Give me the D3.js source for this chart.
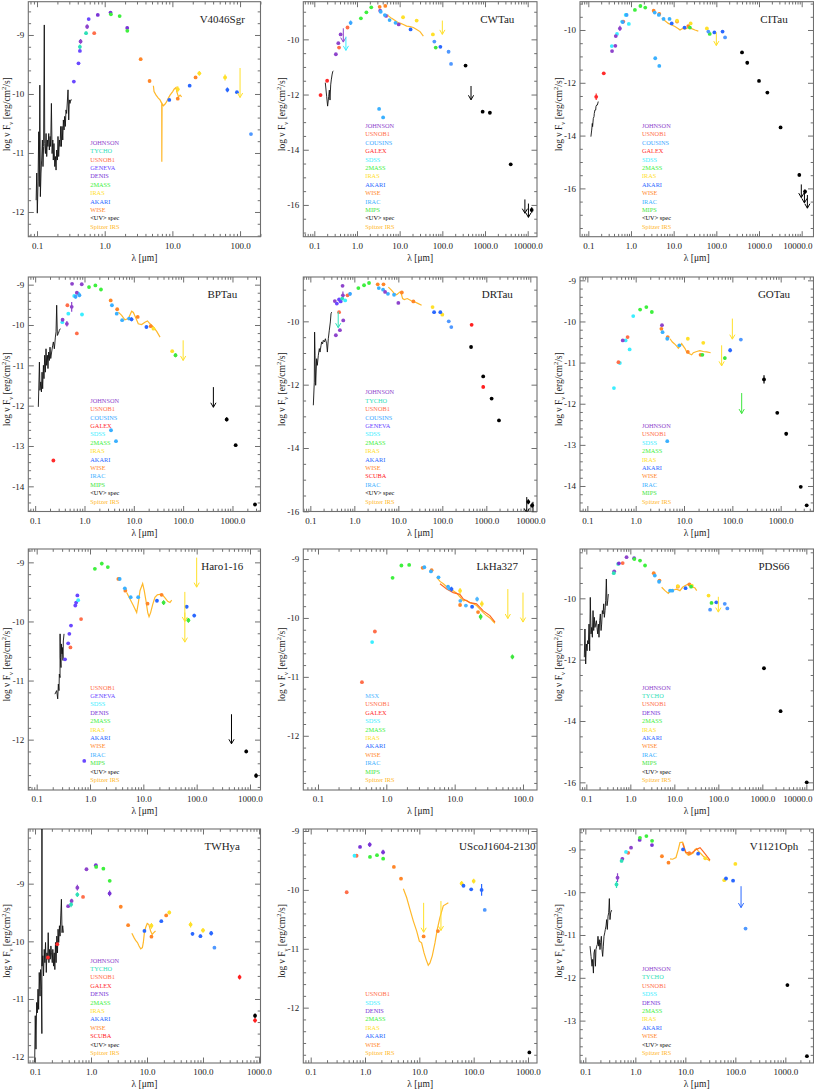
<!DOCTYPE html>
<html>
<head>
<meta charset="utf-8">
<script src="https://cdn.jsdelivr.net/npm/d3@7"></script>
<style>
body { margin: 0; background: #fff; }
svg { display: block; }
</style>
</head>
<body>
<svg id="chart" width="814" height="1089"></svg>
<script>
// catalogue colours and legend labels
const catColors = {
    JOHNSON: '#8e44cc', TYCHO: '#2fe0b8', USNOB1: '#ff6e4a', COUSINS: '#3aa6ff',
    GALEX: '#ff2b2b', GENEVA: '#6a48ff', DENIS: '#7a34d6', SDSS: '#3aeeff',
    '2MASS': '#3ef03e', IRAS: '#ffe02a', AKARI: '#2a68ff', WISE: '#ff8628',
    IRAC: '#3ab0ff', MIPS: '#3ee63e', SCUBA: '#ff2020', MSX: '#4cb6ff',
    UV: '#000000', IRS: '#ffb82a', AKARI_FIS: '#4f98ff', MM: '#000000'
}
const catLabels = { UV: '<UV> spec', IRS: 'Spitzer IRS' }

// ---- V4046Sgr ----
const v4046Phot = [
    ['GENEVA', 0.35, -9.79, 0], ['GENEVA', 0.41, -9.48, 0], ['GENEVA', 0.43, -9.27, 0],
    ['TYCHO', 0.43, -9.20, 0.04], ['JOHNSON', 0.44, -9.11, 0.04], ['TYCHO', 0.53, -8.97, 0.03],
    ['JOHNSON', 0.55, -8.86, 0.04], ['GENEVA', 0.58, -8.73, 0], ['USNOB1', 0.70, -8.97, 0],
    ['DENIS', 0.79, -8.66, 0], ['DENIS', 1.22, -8.62, 0], ['2MASS', 1.235, -8.65, 0.02],
    ['2MASS', 1.662, -8.68, 0.02], ['DENIS', 2.15, -8.88, 0.02], ['2MASS', 2.159, -8.93, 0.02],
    ['WISE', 3.4, -9.41, 0], ['WISE', 4.6, -9.78, 0], ['AKARI', 9, -10.10, 0],
    ['IRAS', 12, -9.92, 0.05], ['WISE', 12, -10.08, 0], ['AKARI', 18, -9.86, 0],
    ['WISE', 22, -9.72, 0], ['IRAS', 25, -9.65, 0.04], ['IRAS', 60, -9.72, 0.05],
    ['AKARI', 65, -9.93, 0.04], ['AKARI', 90, -9.97, 0], ['AKARI_FIS', 145, -10.68, 0]
]
const v4046Lim = [['IRAS', 100, -9.56]]
const v4046Uv = [[0.097,-11.80],[0.099,-11.34],[0.101,-12.02],[0.1035,-11.49],[0.106,-10.64],[0.108,-11.57],[0.110,-9.85],[0.112,-11.74],[0.1145,-11.34],[0.117,-11.12],[0.120,-10.78],[0.1225,-11.23],[0.125,-10.89],[0.128,-8.83],[0.130,-10.84],[0.133,-11.01],[0.136,-10.67],[0.139,-11.06],[0.142,-10.78],[0.145,-10.89],[0.149,-10.67],[0.152,-10.95],[0.156,-10.72],[0.159,-10.89],[0.163,-10.16],[0.167,-11.01],[0.171,-10.78],[0.174,-11.12],[0.178,-10.84],[0.183,-11.23],[0.187,-11.06],[0.191,-11.29],[0.195,-10.95],[0.200,-11.12],[0.204,-10.72],[0.209,-11.06],[0.214,-10.78],[0.219,-10.89],[0.224,-10.55],[0.229,-10.89],[0.234,-10.55],[0.240,-10.78],[0.245,-10.44],[0.251,-10.61],[0.256,-10.38],[0.262,-10.55],[0.268,-10.27],[0.274,-10.33],[0.287,-9.93],[0.294,-10.44],[0.300,-10.10],[0.307,-10.16],[0.315,-10.10],[0.326,-10.10]]
const v4046Irs = [[5.24,-9.86],[5.36,-9.96],[5.74,-10.02],[6.2,-10.07],[6.57,-10.10],[6.96,-10.16],[6.98,-11.15],[7.04,-10.16],[7.37,-10.20],[7.8,-10.17],[8.23,-10.13],[8.73,-10.07],[9.23,-10.02],[10.1,-9.96],[10.6,-9.92],[11.1,-9.90],[11.35,-9.89],[11.6,-9.96],[12.3,-10.05],[13.0,-10.02],[13.7,-10.05]]
const v4046Legend = ['JOHNSON','TYCHO','USNOB1','GENEVA','DENIS','2MASS','IRAS','AKARI','WISE','UV','IRS']

// ---- CWTau ----
const cwPhot = [
    ['GALEX', 0.14, -12.02, 0.05], ['GALEX', 0.20, -11.50, 0],
    ['JOHNSON', 0.32, -10.54, 0], ['JOHNSON', 0.365, -10.14, 0], ['JOHNSON', 0.414, -9.82, 0],
    ['USNOB1', 0.38, -10.30, 0], ['USNOB1', 0.60, -9.57, 0], ['COUSINS', 0.71, -9.40, 0.08],
    ['2MASS', 1.235, -9.24, 0.02], ['2MASS', 1.662, -9.02, 0.02], ['2MASS', 2.159, -8.84, 0.02],
    ['WISE', 3.4, -8.82, 0], ['WISE', 4.6, -8.79, 0], ['JOHNSON', 3.5, -8.96, 0], ['JOHNSON', 4.8, -9.15, 0],
    ['IRAC', 3.6, -9.0, 0], ['IRAC', 4.5, -9.12, 0], ['IRAC', 5.8, -9.30, 0], ['IRAC', 8.0, -9.40, 0],
    ['JOHNSON', 9.5, -9.46, 0], ['IRAS', 12, -9.20, 0], ['IRAS', 25, -9.32, 0], ['IRAS', 60, -9.82, 0],
    ['AKARI', 18, -9.64, 0], ['AKARI', 90, -10.27, 0.04], ['MIPS', 70, -10.30, 0.05],
    ['AKARI_FIS', 65, -10.08, 0], ['AKARI_FIS', 140, -10.45, 0], ['AKARI_FIS', 160, -10.89, 0],
    ['IRAC', 3.3, -12.52, 0], ['IRAC', 4.1, -12.83, 0],
    ['MM', 350, -10.95, 0], ['MM', 880, -12.62, 0], ['MM', 1300, -12.66, 0],
    ['MM', 4000, -14.53, 0], ['MM', 12400, -16.18, 0.1]
]
const cwLim = [['JOHNSON', 0.478, -9.60], ['SDSS', 0.55, -9.90], ['IRAS', 100, -9.32], ['MM', 470, -11.69], ['MM', 8600, -15.80], ['MM', 10400, -15.95]]
const cwUv = [[0.181,-11.57],[0.195,-12.08],[0.205,-12.42],[0.217,-12.08],[0.225,-11.84],[0.233,-12.20],[0.242,-11.65],[0.25,-11.47],[0.26,-11.29],[0.27,-11.17],[0.28,-11.14]]
const cwIrs = [[5.2,-9.10],[5.42,-9.15],[6.5,-9.24],[7.8,-9.32],[9.3,-9.40],[10.6,-9.42],[12.2,-9.46],[14.6,-9.52],[17.5,-9.54],[20.9,-9.57],[25,-9.64],[30,-9.72],[35.9,-9.88]]
const cwLegend = ['JOHNSON','USNOB1','COUSINS','GALEX','SDSS','2MASS','IRAS','AKARI','WISE','IRAC','MIPS','UV','IRS']

// ---- CITau ----
const ciPhot = [
    ['GALEX', 0.153, -12.53, 0.12], ['GALEX', 0.23, -11.64, 0],
    ['SDSS', 0.355, -10.61, 0], ['SDSS', 0.47, -10.15, 0], ['SDSS', 0.62, -9.68, 0], ['SDSS', 0.75, -9.43, 0.05], ['SDSS', 0.89, -9.77, 0],
    ['JOHNSON', 0.36, -10.80, 0], ['JOHNSON', 0.44, -10.23, 0], ['JOHNSON', 0.43, -10.60, 0], ['JOHNSON', 0.55, -9.94, 0.1],
    ['USNOB1', 0.66, -9.68, 0], ['COUSINS', 0.79, -9.43, 0.06], ['COUSINS', 0.64, -9.70, 0.04],
    ['2MASS', 1.235, -9.24, 0.02], ['2MASS', 1.662, -9.09, 0.02], ['2MASS', 2.159, -9.15, 0.02],
    ['WISE', 3.4, -9.27, 0], ['WISE', 4.6, -9.39, 0], ['WISE', 12, -9.68, 0], ['WISE', 22, -9.85, 0],
    ['IRAC', 3.6, -9.34, 0], ['IRAC', 4.5, -9.43, 0], ['IRAC', 5.8, -9.58, 0], ['IRAC', 8.0, -9.58, 0],
    ['AKARI', 9, -9.75, 0], ['AKARI', 18, -9.91, 0], ['AKARI', 90, -10.09, 0.04], ['AKARI', 140, -10.06, 0],
    ['IRAS', 12, -9.65, 0.05], ['IRAS', 25, -9.75, 0.05], ['IRAS', 60, -9.94, 0],
    ['MIPS', 24, -9.91, 0], ['MIPS', 70, -10.15, 0],
    ['AKARI_FIS', 65, -10.06, 0], ['AKARI_FIS', 160, -10.28, 0],
    ['IRAC', 3.7, -11.07, 0], ['IRAC', 4.6, -11.36, 0],
    ['MM', 400, -10.85, 0], ['MM', 530, -11.24, 0.06], ['MM', 1000, -11.93, 0], ['MM', 1570, -12.37, 0],
    ['MM', 3200, -13.69, 0], ['MM', 8800, -15.49, 0.06], ['MM', 12000, -16.12, 0.08]
]
const ciLim = [['IRAS', 100, -10.09], ['MM', 9800, -15.85], ['MM', 11600, -16.05], ['MM', 13600, -16.25]]
const ciUv = [[0.115,-14.04],[0.12,-13.79],[0.124,-13.54],[0.126,-13.66],[0.131,-13.35],[0.136,-13.28],[0.138,-13.16],[0.143,-13.03],[0.149,-13.03],[0.151,-12.90],[0.157,-12.84],[0.163,-12.84],[0.171,-12.71]]
const ciIrs = [[5.23,-9.56],[6.26,-9.65],[7.5,-9.75],[8.97,-9.81],[10.7,-9.87],[12.9,-9.95],[14.1,-10.0],[16.2,-9.94],[18.4,-9.97],[22.1,-9.91],[26.4,-9.95],[31.6,-10.0],[37.8,-10.04]]
const ciLegend = ['JOHNSON','USNOB1','COUSINS','GALEX','SDSS','2MASS','IRAS','AKARI','WISE','IRAC','MIPS','UV','IRS']

// ---- BPTau ----
const bpPhot = [
    ['GALEX', 0.234, -13.36, 0],
    ['SDSS', 0.355, -9.93, 0], ['SDSS', 0.47, -9.72, 0], ['SDSS', 0.62, -9.28, 0], ['SDSS', 0.75, -9.22, 0], ['SDSS', 0.89, -9.74, 0],
    ['JOHNSON', 0.36, -9.87, 0], ['JOHNSON', 0.44, -9.97, 0.07], ['JOHNSON', 0.55, -9.55, 0.12], ['JOHNSON', 0.56, -8.98, 0],
    ['JOHNSON', 0.70, -9.20, 0], ['JOHNSON', 0.88, -8.99, 0],
    ['USNOB1', 0.45, -9.51, 0], ['USNOB1', 0.70, -10.21, 0],
    ['COUSINS', 0.79, -9.26, 0.05], ['COUSINS', 0.66, -9.30, 0.04],
    ['2MASS', 1.235, -9.06, 0.03], ['2MASS', 1.662, -9.02, 0.02], ['2MASS', 2.159, -9.12, 0.03],
    ['WISE', 3.4, -9.39, 0], ['WISE', 4.6, -9.61, 0], ['WISE', 12, -9.80, 0], ['WISE', 22, -10.03, 0],
    ['IRAC', 3.6, -9.51, 0], ['IRAC', 4.5, -9.72, 0], ['IRAC', 5.8, -9.88, 0], ['IRAC', 8.0, -9.84, 0],
    ['AKARI', 9, -9.86, 0.05], ['AKARI', 18, -10.05, 0],
    ['IRAS', 25, -10.09, 0], ['IRAS', 60, -10.65, 0], ['MIPS', 70, -10.75, 0.05],
    ['IRAC', 3.45, -12.61, 0], ['IRAC', 4.35, -12.88, 0],
    ['MM', 763, -12.34, 0.05], ['MM', 1160, -12.98, 0], ['MM', 2860, -14.45, 0]
]
const bpLim = [['IRAS', 100, -10.38], ['MM', 410, -11.54]]
const bpUv = [[0.116,-12.03],[0.122,-10.92],[0.125,-11.62],[0.130,-11.41],[0.134,-11.66],[0.138,-11.17],[0.142,-11.58],[0.147,-11.0],[0.151,-11.33],[0.156,-10.75],[0.161,-11.17],[0.166,-10.59],[0.171,-11.0],[0.177,-10.75],[0.182,-11.08],[0.188,-10.67],[0.194,-10.88],[0.2,-10.55],[0.207,-10.83],[0.216,-10.67],[0.227,-10.50],[0.234,-10.42],[0.245,-10.59],[0.257,-10.30],[0.265,-10.17],[0.273,-9.51],[0.282,-10.26],[0.295,-10.21],[0.31,-10.13],[0.324,-10.09]]
const bpIrs = [[4.86,-9.68],[5.67,-9.76],[6.6,-9.87],[7.75,-9.84],[9.05,-9.66],[9.79,-9.69],[11.1,-9.84],[12.3,-9.97],[14.4,-9.99],[16.8,-9.93],[18.9,-9.90],[21.3,-9.97],[24.9,-10.05],[29.1,-10.16],[34.0,-10.30]]
const bpLegend = ['JOHNSON','USNOB1','COUSINS','GALEX','SDSS','2MASS','IRAS','AKARI','WISE','IRAC','MIPS','UV','IRS']

// ---- DRTau ----
const drPhot = [
    ['JOHNSON', 0.36, -9.36, 0], ['JOHNSON', 0.38, -10.44, 0], ['JOHNSON', 0.47, -10.28, 0], ['JOHNSON', 0.54, -8.88, 0],
    ['JOHNSON', 0.56, -9.97, 0], ['JOHNSON', 0.55, -9.18, 0.12],
    ['GENEVA', 0.40, -9.44, 0], ['GENEVA', 0.45, -9.31, 0], ['GENEVA', 0.49, -9.37, 0],
    ['TYCHO', 0.53, -9.28, 0], ['USNOB1', 0.45, -9.71, 0], ['USNOB1', 0.70, -9.18, 0],
    ['COUSINS', 0.80, -9.13, 0.06], ['SDSS', 0.62, -9.34, 0],
    ['2MASS', 1.235, -8.95, 0.02], ['2MASS', 1.662, -8.86, 0.02], ['2MASS', 2.159, -8.79, 0.02],
    ['WISE', 3.4, -8.83, 0], ['WISE', 4.6, -8.83, 0], ['WISE', 12, -9.09, 0], ['WISE', 22, -9.37, 0],
    ['IRAC', 3.6, -8.95, 0], ['IRAC', 4.5, -9.0, 0], ['IRAC', 5.8, -9.13, 0], ['IRAC', 8.0, -9.16, 0],
    ['JOHNSON', 5.0, -9.07, 0], ['JOHNSON', 10, -9.42, 0],
    ['IRAS', 60, -9.55, 0], ['IRAS', 100, -9.79, 0.04],
    ['AKARI', 65, -9.71, 0.04], ['AKARI', 90, -9.71, 0.04], ['AKARI_FIS', 140, -10.0, 0], ['AKARI_FIS', 160, -10.18, 0],
    ['SCUBA', 464, -10.11, 0.04], ['SCUBA', 850, -12.07, 0.05],
    ['MM', 450, -10.81, 0], ['MM', 850, -11.74, 0.04], ['MM', 1320, -12.44, 0], ['MM', 1940, -13.13, 0],
    ['MM', 9000, -15.70, 0.08], ['MM', 11000, -15.81, 0.08]
]
const drLim = [['TYCHO', 0.43, -9.70], ['MM', 8300, -15.55], ['MM', 11500, -15.70]]
const drUv = [[0.117,-12.65],[0.123,-11.92],[0.125,-10.34],[0.128,-11.07],[0.132,-12.02],[0.139,-11.18],[0.144,-11.39],[0.152,-11.07],[0.16,-10.86],[0.166,-10.97],[0.175,-10.76],[0.181,-10.65],[0.19,-10.71],[0.197,-10.6],[0.208,-10.65],[0.22,-10.55],[0.235,-10.71],[0.244,-10.97],[0.256,-10.55],[0.27,-10.28],[0.285,-10.02],[0.295,-9.76],[0.305,-9.71]]
const drIrs = [[5.94,-8.92],[7.06,-9.02],[7.97,-9.11],[9.16,-9.16],[10.9,-9.07],[11.5,-9.09],[12.5,-9.28],[13.7,-9.31],[16.0,-9.28],[20.1,-9.36],[23.9,-9.39],[28.5,-9.44],[33.8,-9.49]]
const drLegend = ['JOHNSON','TYCHO','USNOB1','COUSINS','GENEVA','SDSS','2MASS','IRAS','AKARI','WISE','SCUBA','IRAC','UV','IRS']

// ---- GOTau ----
const goPhot = [
    ['SDSS', 0.355, -11.62, 0], ['SDSS', 0.47, -11.01, 0], ['SDSS', 0.62, -10.46, 0.03], ['SDSS', 0.75, -10.68, 0], ['SDSS', 0.89, -9.87, 0],
    ['JOHNSON', 0.54, -10.46, 0], ['USNOB1', 0.44, -10.99, 0], ['USNOB1', 0.68, -10.38, 0],
    ['2MASS', 1.235, -9.71, 0.02], ['2MASS', 1.662, -9.65, 0.02], ['2MASS', 2.159, -9.77, 0.02],
    ['JOHNSON', 3.5, -10.09, 0],
    ['WISE', 3.4, -10.18, 0], ['WISE', 4.6, -10.38, 0], ['WISE', 12, -10.74, 0], ['WISE', 22, -10.81, 0],
    ['IRAC', 3.6, -10.26, 0], ['IRAC', 4.5, -10.42, 0], ['IRAC', 8.0, -10.58, 0],
    ['IRAS', 12, -10.42, 0], ['IRAS', 25, -10.52, 0],
    ['AKARI', 90, -10.70, 0.05], ['MIPS', 24, -10.81, 0], ['MIPS', 70, -10.89, 0.04],
    ['AKARI_FIS', 150, -10.44, 0], ['IRAC', 4.5, -12.91, 0],
    ['MM', 452, -11.41, 0.1], ['MM', 850, -12.22, 0.03], ['MM', 1300, -12.73, 0.04], ['MM', 2600, -14.02, 0], ['MM', 3450, -14.47, 0]
]
const goLim = [['IRAS', 60, -10.58], ['IRAS', 100, -9.93], ['MIPS', 156, -11.74]]
const goIrs = [[5.13,-10.42],[5.74,-10.50],[6.3,-10.54],[7.05,-10.60],[7.63,-10.65],[8.25,-10.60],[8.93,-10.54],[9.68,-10.60],[10.5,-10.66],[11.3,-10.74],[12.7,-10.78],[14.4,-10.81],[15.6,-10.76],[18.3,-10.73],[21.3,-10.71],[25.1,-10.73],[29.4,-10.74],[35.6,-10.76]]
const goLegend = ['JOHNSON','USNOB1','SDSS','2MASS','IRAS','AKARI','WISE','IRAC','MIPS','IRS']

// ---- Haro1-16 ----
const haroPhot = [
    ['GENEVA', 0.34, -10.64, 0], ['GENEVA', 0.39, -10.37, 0], ['GENEVA', 0.41, -10.21, 0], ['GENEVA', 0.44, -10.07, 0],
    ['GENEVA', 0.53, -9.73, 0], ['GENEVA', 0.55, -9.68, 0], ['GENEVA', 0.58, -9.56, 0], ['GENEVA', 0.78, -12.36, 0],
    ['USNOB1', 0.43, -10.44, 0], ['USNOB1', 0.68, -9.96, 0], ['SDSS', 0.60, -9.64, 0],
    ['2MASS', 1.235, -9.11, 0.02], ['2MASS', 1.662, -9.02, 0.03], ['2MASS', 2.159, -9.08, 0.02],
    ['WISE', 3.4, -9.28, 0], ['WISE', 4.6, -9.48, 0], ['WISE', 12, -9.70, 0], ['WISE', 22, -9.55, 0],
    ['IRAC', 3.6, -9.28, 0.03], ['IRAC', 4.5, -9.44, 0.02], ['IRAC', 5.8, -9.59, 0], ['IRAC', 8.0, -9.59, 0.02],
    ['AKARI', 18, -9.65, 0], ['AKARI', 65, -9.75, 0.03], ['AKARI', 90, -9.90, 0.03],
    ['MIPS', 24, -9.68, 0.04], ['MIPS', 70, -9.98, 0.04],
    ['MM', 850, -12.20, 0.03], ['MM', 1300, -12.61, 0.04]
]
const haroLim = [['IRAS', 60, -9.50], ['IRAS', 60, -9.85], ['IRAS', 100, -8.92], ['MM', 450, -11.57]]
const haroUv = [[0.22,-11.23],[0.237,-11.17],[0.248,-11.31],[0.255,-11.06],[0.262,-11.17],[0.266,-10.89],[0.274,-10.95],[0.275,-10.21],[0.278,-10.61],[0.286,-10.78],[0.29,-10.38],[0.299,-10.55],[0.303,-10.44],[0.312,-10.66],[0.316,-10.33],[0.326,-10.21]]
const haroIrs = [[4.87,-9.51],[5.62,-9.62],[6.49,-9.73],[7.5,-9.85],[8.07,-9.68],[8.66,-9.48],[9.71,-9.36],[10.4,-9.48],[11.2,-9.65],[12.1,-9.85],[12.8,-9.92],[13.7,-9.85],[15.0,-9.71],[16.5,-9.59],[18.3,-9.55],[20.5,-9.54],[22.7,-9.55],[25.5,-9.60],[28.6,-9.66],[31.6,-9.68],[34.0,-9.64]]
const haroLegend = ['USNOB1','GENEVA','SDSS','DENIS','2MASS','IRAS','AKARI','WISE','IRAC','MIPS','UV','IRS']

// ---- LkHa327 ----
const lkPhot = [
    ['USNOB1', 0.44, -11.09, 0], ['USNOB1', 0.68, -10.23, 0], ['SDSS', 0.62, -10.41, 0],
    ['2MASS', 1.235, -9.32, 0], ['2MASS', 1.662, -9.11, 0], ['2MASS', 2.159, -9.10, 0],
    ['WISE', 3.4, -9.15, 0], ['WISE', 4.6, -9.19, 0], ['WISE', 12, -9.78, 0], ['WISE', 22, -9.90, 0],
    ['IRAC', 3.6, -9.14, 0.02], ['IRAC', 4.5, -9.21, 0.02], ['IRAC', 5.8, -9.31, 0.02], ['IRAC', 8.0, -9.47, 0.02],
    ['MSX', 8.3, -9.50, 0], ['MSX', 12.1, -9.71, 0], ['MSX', 14.6, -9.79, 0], ['MSX', 21.3, -9.68, 0.04],
    ['AKARI', 9, -9.51, 0.04], ['AKARI', 18, -9.81, 0],
    ['IRAS', 12, -9.54, 0.05], ['IRAS', 25, -9.76, 0.05],
    ['MIPS', 24, -9.98, 0.05], ['MIPS', 70, -10.66, 0.04]
]
const lkLim = [['IRAS', 60, -9.51], ['IRAS', 100, -9.57]]
const lkIrs = [[5.46,-9.31],[6.1,-9.38],[6.83,-9.42],[7.63,-9.47],[8.53,-9.51],[9.54,-9.54],[10.7,-9.58],[11.9,-9.64],[13.4,-9.71],[15.0,-9.70],[16.7,-9.74],[18.7,-9.76],[20.9,-9.79],[23.4,-9.85],[26.2,-9.91],[29.3,-9.96],[32.8,-10.0],[36.7,-10.06],[38.9,-10.09]]
const lkIrs2 = [[6.1,-9.42],[7.63,-9.51],[9.54,-9.57],[11.9,-9.60],[13.4,-9.68],[16.7,-9.74],[20.9,-9.76],[26.2,-9.88],[32.8,-9.96],[38.9,-10.07]]
const lkLegend = ['MSX','USNOB1','GALEX','SDSS','2MASS','IRAS','AKARI','WISE','IRAC','MIPS','IRS']

// ---- PDS66 ----
const pdsPhot = [
    ['JOHNSON', 0.43, -9.12, 0], ['JOHNSON', 0.82, -8.66, 0], ['TYCHO', 0.42, -9.18, 0], ['TYCHO', 0.53, -8.88, 0],
    ['USNOB1', 0.67, -8.85, 0], ['DENIS', 0.55, -8.86, 0], ['DENIS', 1.22, -8.69, 0],
    ['2MASS', 1.235, -8.72, 0.02], ['2MASS', 1.662, -8.77, 0.02], ['2MASS', 2.159, -8.93, 0.02],
    ['WISE', 3.4, -9.18, 0], ['WISE', 4.6, -9.42, 0], ['WISE', 12, -9.62, 0], ['WISE', 22, -9.55, 0],
    ['IRAC', 3.6, -9.26, 0], ['IRAC', 4.5, -9.46, 0], ['IRAC', 8.0, -9.75, 0], ['IRAC', 9.0, -9.75, 0],
    ['AKARI', 18, -9.67, 0], ['AKARI', 90, -10.13, 0],
    ['IRAS', 12, -9.60, 0], ['IRAS', 25, -9.59, 0], ['IRAS', 60, -9.91, 0.04],
    ['MIPS', 24, -9.62, 0], ['MIPS', 70, -10.15, 0],
    ['AKARI_FIS', 65, -10.37, 0], ['AKARI_FIS', 140, -10.18, 0], ['AKARI_FIS', 160, -10.33, 0],
    ['MM', 1090, -12.28, 0], ['MM', 2600, -13.68, 0.04], ['MM', 10200, -16.0, 0.03]
]
const pdsLim = [['IRAS', 100, -9.95]]
const pdsUv = [[0.09,-11.92],[0.093,-11.0],[0.0966,-12.14],[0.1,-11.49],[0.104,-11.71],[0.107,-11.38],[0.111,-11.49],[0.115,-10.84],[0.119,-11.71],[0.123,-9.97],[0.128,-11.16],[0.132,-10.95],[0.137,-11.27],[0.142,-10.40],[0.147,-11.05],[0.152,-10.62],[0.157,-10.95],[0.163,-10.84],[0.169,-10.73],[0.175,-10.95],[0.181,-11.16],[0.188,-10.84],[0.194,-11.27],[0.201,-10.73],[0.208,-10.51],[0.216,-11.05],[0.223,-10.84],[0.231,-10.40],[0.24,-10.51],[0.248,-10.18],[0.257,-10.62],[0.266,-10.40],[0.275,-10.08],[0.285,-9.37],[0.295,-10.24],[0.306,-10.08],[0.316,-9.86]]
const pdsIrs = [[5.15,-9.64],[6.13,-9.75],[7.3,-9.84],[8.25,-9.75],[9.49,-9.73],[11.3,-9.70],[13.4,-9.75],[15.4,-9.64],[17.4,-9.59],[20.8,-9.53],[24.8,-9.62],[29.5,-9.66],[32.2,-9.75]]
const pdsLegend = ['JOHNSON','TYCHO','USNOB1','DENIS','2MASS','IRAS','AKARI','WISE','IRAC','MIPS','UV','IRS']

// ---- TWHya ----
const twPhot = [
    ['GALEX', 0.17, -10.28, 0], ['GALEX', 0.25, -10.05, 0],
    ['JOHNSON', 0.39, -9.39, 0], ['JOHNSON', 0.45, -9.30, 0.04], ['JOHNSON', 0.57, -9.07, 0.05], ['JOHNSON', 0.83, -8.75, 0],
    ['TYCHO', 0.44, -9.36, 0.05], ['TYCHO', 0.57, -9.19, 0.04], ['USNOB1', 0.72, -9.23, 0],
    ['DENIS', 1.22, -8.68, 0], ['DENIS', 2.15, -9.17, 0.05],
    ['2MASS', 1.235, -8.71, 0.02], ['2MASS', 1.662, -8.74, 0.02], ['2MASS', 2.159, -8.95, 0.02],
    ['WISE', 3.4, -9.40, 0], ['WISE', 4.6, -9.72, 0], ['WISE', 12, -9.92, 0], ['WISE', 22, -9.55, 0],
    ['IRAS', 12, -9.73, 0.05], ['IRAS', 25, -9.50, 0.03], ['IRAS', 60, -9.71, 0.05], ['IRAS', 100, -9.81, 0.04],
    ['AKARI', 9, -9.82, 0], ['AKARI', 18, -9.65, 0], ['AKARI', 65, -9.87, 0.03], ['AKARI', 90, -9.91, 0.03],
    ['AKARI', 140, -9.86, 0.04], ['AKARI_FIS', 160, -10.11, 0],
    ['SCUBA', 450, -10.62, 0.04], ['SCUBA', 850, -11.37, 0.04], ['MM', 850, -11.29, 0.04]
]
const twLim = []
const twUv = [[0.0986,-12.10],[0.101,-11.29],[0.104,-11.87],[0.107,-11.06],[0.11,-11.24],[0.113,-10.83],[0.116,-11.18],[0.119,-10.54],[0.123,-10.95],[0.126,-10.49],[0.13,-10.83],[0.1325,-11.6],[0.133,-8.0],[0.1335,-10.43],[0.138,-10.25],[0.142,-10.60],[0.146,-10.14],[0.15,-10.37],[0.154,-10.02],[0.159,-10.54],[0.163,-10.20],[0.168,-10.31],[0.172,-9.85],[0.177,-10.37],[0.182,-10.14],[0.187,-10.31],[0.192,-10.08],[0.197,-10.20],[0.203,-10.37],[0.208,-10.14],[0.214,-10.43],[0.22,-10.20],[0.226,-10.49],[0.232,-10.02],[0.238,-10.37],[0.245,-9.91],[0.252,-10.20],[0.258,-9.79],[0.265,-10.02],[0.273,-9.73],[0.28,-9.91],[0.288,-9.56],[0.296,-9.27],[0.304,-9.85],[0.312,-9.73],[0.321,-9.85]]
const twIrs = [[5.36,-9.86],[5.9,-9.94],[6.31,-9.99],[6.75,-10.02],[7.21,-10.08],[7.72,-10.13],[8.26,-10.11],[8.6,-10.02],[8.98,-9.85],[9.46,-9.76],[10.1,-9.69],[10.8,-9.71],[11.6,-9.82],[12.4,-9.88],[13.2,-9.85],[14.2,-9.82]]
const twLegend = ['JOHNSON','TYCHO','USNOB1','GALEX','DENIS','2MASS','IRAS','AKARI','WISE','SCUBA','UV','IRS']

// ---- UScoJ1604-2130 ----
const uscoPhot = [
    ['USNOB1', 0.46, -10.04, 0], ['USNOB1', 0.70, -9.42, 0], ['SDSS', 0.64, -9.42, 0],
    ['DENIS', 0.81, -9.27, 0], ['DENIS', 1.22, -9.23, 0.04], ['DENIS', 2.15, -9.36, 0.04],
    ['2MASS', 1.235, -9.44, 0.02], ['2MASS', 1.662, -9.41, 0.02], ['2MASS', 2.159, -9.47, 0.02],
    ['WISE', 3.4, -9.61, 0], ['WISE', 4.6, -9.81, 0], ['WISE', 12, -10.79, 0], ['WISE', 22, -10.70, 0],
    ['IRAS', 60, -9.89, 0.04], ['IRAS', 100, -9.85, 0.04],
    ['AKARI', 65, -9.93, 0], ['AKARI', 90, -9.99, 0], ['AKARI', 140, -10.0, 0.1], ['AKARI_FIS', 160, -10.34, 0],
    ['MM', 1060, -12.76, 0]
]
const uscoLim = [['IRAS', 12, -10.22], ['IRAS', 25, -10.19]]
const uscoIrs = [[5.08,-9.98],[5.84,-10.13],[6.72,-10.33],[7.76,-10.53],[8.94,-10.70],[10.0,-10.87],[11.0,-10.90],[12.2,-11.07],[13.3,-11.18],[14.6,-11.28],[15.7,-11.24],[17.3,-11.12],[19.4,-10.90],[21.4,-10.67],[23.9,-10.47],[27.6,-10.27],[34.2,-10.22]]
const uscoLegend = ['USNOB1','SDSS','DENIS','2MASS','IRAS','AKARI','WISE','IRS']

// ---- V1121Oph ----
const v1121Phot = [
    ['JOHNSON', 0.44, -9.66, 0.1], ['JOHNSON', 0.55, -9.22, 0.04], ['JOHNSON', 0.82, -8.96, 0],
    ['TYCHO', 0.42, -9.82, 0.08], ['TYCHO', 0.53, -9.27, 0.03], ['USNOB1', 0.72, -9.08, 0], ['SDSS', 0.65, -9.06, 0],
    ['DENIS', 1.22, -8.78, 0], ['DENIS', 2.15, -8.90, 0],
    ['2MASS', 1.235, -8.73, 0.02], ['2MASS', 1.662, -8.69, 0.02], ['2MASS', 2.159, -8.80, 0.02],
    ['WISE', 3.4, -9.16, 0], ['WISE', 4.6, -9.31, 0], ['WISE', 12, -9.09, 0],
    ['IRAS', 25, -9.21, 0], ['IRAS', 60, -9.72, 0.03], ['IRAS', 100, -9.34, 0],
    ['AKARI', 9, -9.0, 0], ['AKARI', 18, -9.1, 0], ['AKARI', 65, -9.68, 0.03], ['AKARI', 90, -9.73, 0],
    ['AKARI_FIS', 160, -10.85, 0],
    ['MM', 1100, -12.17, 0.03], ['MM', 2700, -13.83, 0]
]
const v1121Lim = [['AKARI', 130, -9.86]]
const v1121Uv = [[0.124,-11.26],[0.13,-11.50],[0.136,-11.73],[0.14,-11.57],[0.145,-11.89],[0.149,-11.42],[0.154,-11.34],[0.159,-11.73],[0.163,-11.34],[0.169,-11.26],[0.174,-11.22],[0.179,-11.03],[0.185,-11.26],[0.19,-11.11],[0.196,-11.34],[0.202,-11.18],[0.209,-11.03],[0.215,-11.34],[0.222,-11.50],[0.229,-11.26],[0.236,-11.03],[0.244,-10.95],[0.251,-10.87],[0.259,-10.79],[0.267,-10.64],[0.275,-10.87],[0.284,-10.56],[0.293,-10.48],[0.302,-10.15],[0.311,-10.64],[0.321,-10.48],[0.336,-10.42]]
const v1121Irs = [[4.94,-9.22],[5.58,-9.23],[6.5,-9.19],[7.23,-9.0],[7.81,-8.84],[8.83,-8.83],[9.4,-8.92],[10.1,-9.08],[11.5,-9.14],[12.8,-9.12],[14.5,-9.08],[15.6,-9.0],[16.8,-8.98],[18.2,-9.04],[19.7,-9.08],[21.2,-9.12],[22.9,-9.16],[24.7,-9.19],[26.7,-9.22],[31.1,-9.27]]
const v1121Irs2 = [[8.83,-8.86],[10.1,-9.06],[12.8,-9.10],[16.8,-9.0],[19.7,-8.96],[22.9,-9.05],[26.7,-9.15],[31.1,-9.25]]
const v1121Legend = ['JOHNSON','TYCHO','USNOB1','SDSS','DENIS','2MASS','IRAS','AKARI','WISE','UV','IRS']

// ---- panel layout: axis ranges (log10 lambda, log nuFnu) ----
const COLS = [[28.3, 260.5], [303.3, 537], [580, 813.5]]
const ROWS = [[1.7, 236.7], [277, 511.5], [549, 790], [829, 1063]]

const panels = [
    { name: 'V4046Sgr', c: 0, r: 0, xr: [-1.129, 2.302], yr: [-12.419, -8.436], step: 1, phot: v4046Phot, lim: v4046Lim, uv: v4046Uv, irs: [v4046Irs], legend: v4046Legend },
    { name: 'CWTau', c: 1, r: 0, xr: [-1.258, 4.218], yr: [-17.151, -8.636], step: 2, phot: cwPhot, lim: cwLim, uv: cwUv, irs: [cwIrs], legend: cwLegend },
    { name: 'CITau', c: 2, r: 0, xr: [-1.195, 4.277], yr: [-17.83, -8.928], step: 2, phot: ciPhot, lim: ciLim, uv: ciUv, irs: [ciIrs], legend: ciLegend },
    { name: 'BPTau', c: 0, r: 1, xr: [-1.139, 3.568], yr: [-14.624, -8.81], step: 1, phot: bpPhot, lim: bpLim, uv: bpUv, irs: [bpIrs], legend: bpLegend },
    { name: 'DRTau', c: 1, r: 1, xr: [-1.16, 4.152], yr: [-16.005, -8.60], step: 2, phot: drPhot, lim: drLim, uv: drUv, irs: [drIrs], legend: drLegend },
    { name: 'GOTau', c: 2, r: 1, xr: [-1.152, 3.679], yr: [-14.62, -8.919], step: 1, phot: goPhot, lim: goLim, uv: null, irs: [goIrs], legend: goLegend },
    { name: 'Haro1-16', c: 0, r: 2, xr: [-1.157, 3.197], yr: [-12.852, -8.774], step: 1, phot: haroPhot, lim: haroLim, uv: haroUv, irs: [haroIrs], legend: haroLegend },
    { name: 'LkHa327', c: 1, r: 2, xr: [-1.215, 2.205], yr: [-12.92, -8.83], step: 1, phot: lkPhot, lim: lkLim, uv: null, irs: [lkIrs, lkIrs2], legend: lkLegend },
    { name: 'PDS66', c: 2, r: 2, xr: [-1.144, 4.163], yr: [-16.25, -8.392], step: 2, phot: pdsPhot, lim: pdsLim, uv: pdsUv, irs: [pdsIrs], legend: pdsLegend },
    { name: 'TWHya', c: 0, r: 3, xr: [-1.12, 3.027], yr: [-12.11, -8.052], step: 1, phot: twPhot, lim: twLim, uv: twUv, irs: [twIrs], legend: twLegend },
    { name: 'UScoJ1604-2130', c: 1, r: 3, xr: [-1.136, 3.166], yr: [-12.94, -8.966], step: 1, phot: uscoPhot, lim: uscoLim, uv: null, irs: [uscoIrs], legend: uscoLegend },
    { name: 'V1121Oph', c: 2, r: 3, xr: [-1.107, 3.563], yr: [-13.99, -8.524], step: 1, phot: v1121Phot, lim: v1121Lim, uv: v1121Uv, irs: [v1121Irs, v1121Irs2], legend: v1121Legend }
]

const FONT = "'Liberation Serif', 'Times New Roman', serif"
const AXIS_COL = '#6f6f6f'
const svg = d3.select('#chart')
svg.append('rect').attr('width', 814).attr('height', 1089).attr('fill', '#fff')

const fmtX = d => d < 1 ? String(d) : d.toFixed(1)

panels.forEach((p, i) => {
    const [x0, x1] = COLS[p.c]
    const [y0, y1] = ROWS[p.r]
    const x = d3.scaleLog().domain([10 ** p.xr[0], 10 ** p.xr[1]]).range([x0, x1])
    const y = d3.scaleLinear().domain(p.yr).range([y1, y0])
    const g = svg.append('g')

    // clip
    const clipId = 'clip' + i
    svg.append('clipPath').attr('id', clipId)
        .append('rect').attr('x', x0).attr('y', y0).attr('width', x1 - x0).attr('height', y1 - y0)

    // ticks
    const majX = d3.range(Math.ceil(p.xr[0]), Math.floor(p.xr[1]) + 1).map(e => +(10 ** e).toPrecision(3))
    const minX = []
    for (let e = Math.floor(p.xr[0]); e <= Math.ceil(p.xr[1]); e++) {
        for (let k = 2; k <= 9; k++) {
            const v = k * 10 ** e
            if (Math.log10(v) > p.xr[0] && Math.log10(v) < p.xr[1]) minX.push(v)
        }
    }
    const majY = d3.range(Math.ceil(p.yr[0] / p.step) * p.step, p.yr[1] + 1e-9, p.step)
    const minStep = p.step === 1 ? 0.2 : 0.5
    const minY = d3.range(Math.ceil(p.yr[0] / minStep) * minStep, p.yr[1], minStep)
        .filter(v => Math.abs(v / p.step - Math.round(v / p.step)) > 1e-6)

    const styleAxis = sel => {
        sel.select('.domain').remove()
        sel.selectAll('line').attr('stroke', AXIS_COL)
        sel.selectAll('text').attr('font-family', FONT).attr('font-size', 9).attr('fill', '#222')
    }

    const bottom = g.append('g').attr('transform', `translate(0,${y1})`)
        .call(d3.axisBottom(x).tickValues(majX).tickSize(-5.5).tickPadding(6).tickFormat(fmtX)).call(styleAxis)
    // keep the last label inside the picture
    bottom.selectAll('text').each(function () {
        const bb = this.getBBox()
        const tr = this.parentNode.getAttribute('transform')
        const tx = +tr.match(/translate\(([-\d.]+)/)[1]
        const over = tx + bb.x + bb.width - 813
        if (over > 0) d3.select(this).attr('x', -over)
    })
    g.append('g').attr('transform', `translate(0,${y1})`)
        .call(d3.axisBottom(x).tickValues(minX).tickSize(-2.8).tickFormat('')).call(styleAxis)
    g.append('g').attr('transform', `translate(0,${y0})`)
        .call(d3.axisTop(x).tickValues(majX).tickSize(-5.5).tickFormat('')).call(styleAxis)
    g.append('g').attr('transform', `translate(0,${y0})`)
        .call(d3.axisTop(x).tickValues(minX).tickSize(-2.8).tickFormat('')).call(styleAxis)
    g.append('g').attr('transform', `translate(${x0},0)`)
        .call(d3.axisLeft(y).tickValues(majY).tickSize(-5.5).tickPadding(4).tickFormat(d => String(Math.round(d)))).call(styleAxis)
    g.append('g').attr('transform', `translate(${x0},0)`)
        .call(d3.axisLeft(y).tickValues(minY).tickSize(-2.8).tickFormat('')).call(styleAxis)
    g.append('g').attr('transform', `translate(${x1},0)`)
        .call(d3.axisRight(y).tickValues(majY).tickSize(-5.5).tickFormat('')).call(styleAxis)
    g.append('g').attr('transform', `translate(${x1},0)`)
        .call(d3.axisRight(y).tickValues(minY).tickSize(-2.8).tickFormat('')).call(styleAxis)

    // frame
    g.append('rect').attr('x', x0).attr('y', y0).attr('width', x1 - x0).attr('height', y1 - y0)
        .attr('fill', 'none').attr('stroke', AXIS_COL).attr('stroke-width', 1.1)

    // axis titles
    g.append('text').attr('x', (x0 + x1) / 2).attr('y', y1 + 24)
        .attr('text-anchor', 'middle').attr('font-family', FONT).attr('font-size', 9.5).attr('fill', '#222')
        .text('λ [μm]')
    const yl = g.append('text')
        .attr('transform', `translate(${x0 - 21},${(y0 + y1) / 2 - 5}) rotate(-90)`)
        .attr('text-anchor', 'middle').attr('dominant-baseline', 'central')
        .attr('font-family', FONT).attr('font-size', 9.5).attr('fill', '#222')
    yl.append('tspan').text('log ν F')
    yl.append('tspan').attr('font-size', 6.5).attr('dy', 2.5).text('ν')
    yl.append('tspan').attr('dy', -2.5).text(' [erg/cm')
    yl.append('tspan').attr('font-size', 6.5).attr('dy', -4).text('2')
    yl.append('tspan').attr('dy', 4).text('/s]')

    // name
    g.append('text').attr('x', x0 + 194).attr('y', y0 + 21)
        .attr('text-anchor', 'middle').attr('font-family', FONT).attr('font-size', 11).attr('fill', '#222')
        .text(p.name)

    // legend
    const lg = g.append('g')
    const n = p.legend.length
    lg.selectAll('text').data(p.legend).join('text')
        .attr('x', x0 + 62)
        .attr('y', (d, k) => y1 - 8 - (n - 1 - k) * 8.4)
        .attr('font-family', FONT).attr('font-size', 6.3).attr('fill', d => catColors[d])
        .text(d => catLabels[d] || d)

    const plot = g.append('g').attr('clip-path', `url(#${clipId})`)
    const line = d3.line().x(d => x(d[0])).y(d => y(d[1]))

    if (p.uv) {
        plot.append('path').datum(p.uv).attr('d', line)
            .attr('fill', 'none').attr('stroke', '#111').attr('stroke-width', 0.9)
    }
    p.irs.forEach((s, k) => {
        plot.append('path').datum(s).attr('d', line)
            .attr('fill', 'none').attr('stroke', k === 0 ? catColors.IRS : '#ff6a22').attr('stroke-width', 1.2)
    })

    // error bars
    plot.selectAll('.err').data(p.phot.filter(d => d[3] > 0)).join('line')
        .attr('x1', d => x(d[1])).attr('x2', d => x(d[1]))
        .attr('y1', d => y(d[2] - d[3])).attr('y2', d => y(d[2] + d[3]))
        .attr('stroke', d => catColors[d[0]]).attr('stroke-width', 1.2)

    // photometry
    plot.selectAll('.pt').data(p.phot).join('circle')
        .attr('cx', d => x(d[1])).attr('cy', d => y(d[2])).attr('r', 1.9)
        .attr('fill', d => catColors[d[0]])

    // upper limits: arrows 0.5 dex long
    const arr = plot.selectAll('.lim').data(p.lim).join('g')
    arr.append('line')
        .attr('x1', d => x(d[1])).attr('x2', d => x(d[1]))
        .attr('y1', d => y(d[2])).attr('y2', d => y(d[2] - 0.5))
        .attr('stroke', d => catColors[d[0]]).attr('stroke-width', 1)
    arr.append('path')
        .attr('d', d => {
            const cx = x(d[1]), ty = y(d[2] - 0.5)
            return `M${cx - 2.6},${ty - 4.5}L${cx},${ty}L${cx + 2.6},${ty - 4.5}`
        })
        .attr('fill', 'none').attr('stroke', d => catColors[d[0]]).attr('stroke-width', 1)
})
</script>
</body>
</html>
